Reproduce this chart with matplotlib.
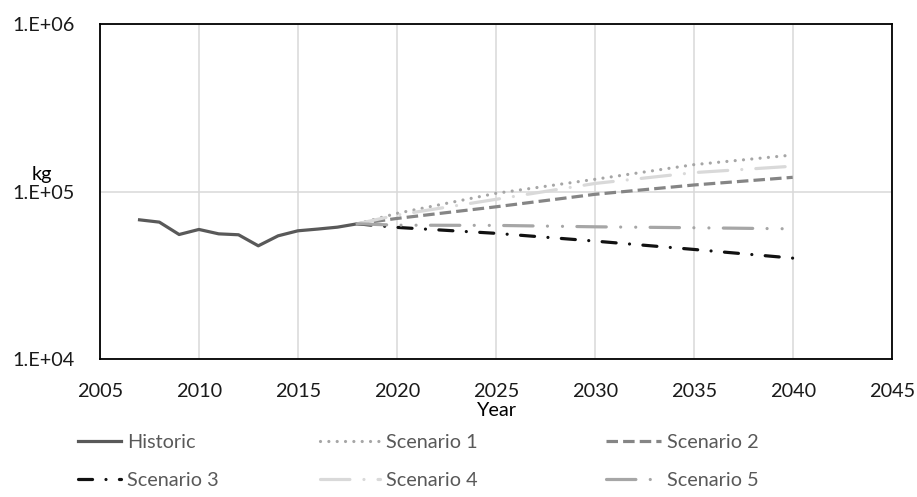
import numpy as np
import matplotlib
matplotlib.use('Agg')
import matplotlib.pyplot as plt
import matplotlib.ticker as mticker

plt.rcParams['font.family'] = ['Lato', 'DejaVu Sans']
plt.rcParams['font.size'] = 14.3

# historic series (kg)
hist_years = [2007, 2008, 2009, 2010, 2011, 2012, 2013, 2014, 2015, 2016, 2017, 2018]
hist_vals = [68000, 65900, 55600, 59600, 56100, 55400, 47600, 54600, 58500, 59900, 61500, 64400]

# scenario projections (kg)
scen_years = [2018, 2020, 2025, 2030, 2035, 2040]
scen1 = [64400, 74300, 97800, 118600, 145000, 165600]
scen2 = [64400, 69300, 81300, 96500, 109700, 121900]
scen3 = [64400, 61300, 56500, 50800, 45300, 40200]
scen4 = [64400, 72600, 90100, 112000, 130000, 142000]
scen5 = [64400, 63200, 63000, 61800, 61000, 60100]

x_ticks = [2005, 2010, 2015, 2020, 2025, 2030, 2035, 2040, 2045]
y_ticks = [1e4, 1e5, 1e6]

fig = plt.figure(figsize=(9.17, 4.97), dpi=100)
ax = fig.add_axes([0.109, 0.2767, 0.8634, 0.675])

lw = 2.3
h_hist, = ax.plot(hist_years, hist_vals, color='#595959', lw=lw, label='Historic',
                  solid_joinstyle='round')
h1, = ax.plot(scen_years, scen1, color='#a6a6a6', lw=lw, label='Scenario 1',
              linestyle=(0, (0.01, 2.6)), dash_capstyle='round')
h2, = ax.plot(scen_years, scen2, color='#858585', lw=lw, label='Scenario 2',
              linestyle=(0, (3.6, 1.6)))
h3, = ax.plot(scen_years, scen3, color='#111111', lw=lw, label='Scenario 3',
              linestyle=(0, (4.4, 4.2, 0.01, 4.2)), dash_capstyle='round')
h4, = ax.plot(scen_years, scen4, color='#d9d9d9', lw=lw, label='Scenario 4',
              linestyle=(0, (9.2, 4.4, 0.01, 4.4)), dash_capstyle='round')
h5, = ax.plot(scen_years, scen5, color='#a6a6a6', lw=lw, label='Scenario 5',
              linestyle=(0, (9.2, 4.5, 0.01, 4.7, 0.01, 4.5)), dash_capstyle='round')

ax.set_yscale('log')
ax.set_ylim(1e4, 1e6)
ax.set_xlim(2005, 2045)
ax.set_xticks(x_ticks)
ax.set_yticks(y_ticks)
ax.yaxis.set_minor_locator(mticker.NullLocator())
ax.yaxis.set_major_formatter(mticker.FuncFormatter(lambda v, p: f"1.E+{int(round(np.log10(v))):02d}"))
ax.tick_params(axis='both', length=0, colors='#1a1a1a')
ax.tick_params(axis='y', pad=18)
ax.tick_params(axis='x', pad=17)
ax.grid(True, color='#d9d9d9', lw=1.1)
ax.set_axisbelow(True)
for sp in ax.spines.values():
    sp.set_color('black')
    sp.set_linewidth(1.3)

fig.text(42 / 917, 1 - 174 / 497, 'kg', ha='center', va='center')
fig.text(497 / 917, 1 - 411 / 497, 'Year', ha='center', va='center')

# legend laid out in three columns like the original
cols = [([h_hist, h3], 78, 2.15), ([h1, h4], 320, 3.0), ([h2, h5], 606, 2.75)]
for handles, x0, hl in cols:
    leg = fig.legend(handles=handles, loc='upper left',
                     bbox_to_anchor=(x0 / 917, 1 - 434 / 497),
                     frameon=False, borderpad=0, borderaxespad=0,
                     handlelength=hl, handletextpad=0.3, labelspacing=1.05,
                     labelcolor='#595959')

fig.savefig('out.png', dpi=100)
